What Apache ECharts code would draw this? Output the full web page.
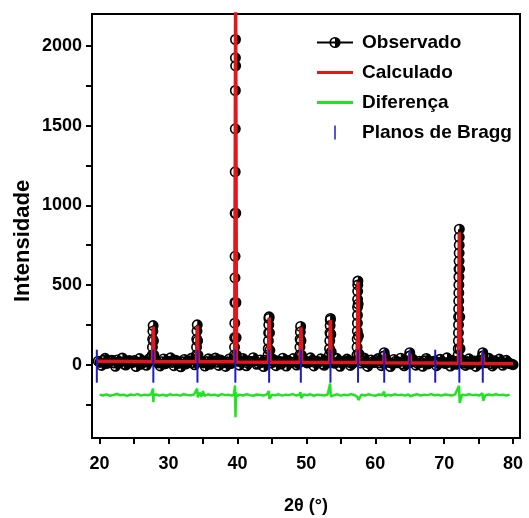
<!DOCTYPE html>
<html>
<head>
<meta charset="utf-8">
<script src="https://cdn.jsdelivr.net/npm/echarts@6/dist/echarts.min.js"></script>
<style>html,body{margin:0;padding:0;background:#fff}#c{width:529px;height:518px}</style>
</head>
<body>
<div id="c"></div>
<script>
// ---- Data ----
const seriesNames = ['Observado', 'Calculado', 'Diferença', 'Planos de Bragg'];
const xTickLabels = [20, 30, 40, 50, 60, 70, 80];
const xTicks = [20, 25, 30, 35, 40, 45, 50, 55, 60, 65, 70, 75, 80];
const yTickLabels = [0, 500, 1000, 1500, 2000];
const yTicks = [-250, 0, 250, 500, 750, 1000, 1250, 1500, 1750, 2000];

// Observed background counts [2θ, intensity]
const observedBackground = [
  [19.8,22],[20.3,-5],[20.8,40],[21.3,12],[21.8,28],[22.3,-10],[22.8,19],[23.3,42],[23.8,-2],[24.3,26],
  [24.8,14],[25.3,-12],[25.8,38],[26.3,18],[26.8,-4],[27.3,41],[28.3,16],[28.8,-8],[29.3,36],
  [29.8,12],[30.3,43],[30.8,-6],[31.3,21],[31.8,-13],[32.3,33],[32.8,17],[33.3,40],[33.8,-1],
  [34.8,19],[35.3,-9],[35.8,37],[36.3,14],[36.8,42],[37.3,-5],[37.8,23],[38.3,-11],[38.8,35],[39.3,17],
  [40.3,-3],[40.8,39],[41.3,-7],[41.8,22],[42.3,44],[42.8,2],[43.3,30],[43.8,-12],[44.3,18],
  [45.1,36],[45.6,-6],[46.1,21],[46.6,41],[47.1,-9],[47.6,15],[48.1,38],[48.6,-2],
  [49.6,31],[50.1,11],[50.6,43],[51.1,-8],[51.6,20],[52.1,37],[52.6,-4],[53.1,23],
  [53.9,14],[54.4,40],[54.9,-10],[55.4,19],[55.9,35],[56.4,-5],[56.9,22],
  [57.9,10],[58.4,42],[58.9,-11],[59.4,30],[59.9,13],[60.4,38],[60.9,-6],
  [61.7,20],[62.2,-12],[62.7,33],[63.2,12],[63.7,41],[64.2,-7],[64.6,17],
  [65.4,36],[65.9,-3],[66.4,22],[66.9,-10],[67.4,39],[67.9,11],[68.4,18],[68.9,-6],[69.4,34],
  [69.9,13],[70.4,43],[70.9,-9],[71.4,21],[71.8,2],
  [72.6,30],[73.1,-5],[73.6,37],[74.1,15],[74.6,-11],[75.1,29],
  [76.0,12],[76.5,40],[77.0,-8],[77.5,20],[78.0,35],[78.5,-4],[79.0,27],[79.5,6],[80.0,0]
];
const observedBackground2 = [
  [20.05,14],[20.55,27],[21.05,8],[21.55,24],[22.05,11],[22.55,30],[23.05,16],[23.55,4],[24.05,21],[24.55,12],
  [25.05,26],[25.55,15],[26.05,3],[26.55,23],[27.05,17],[28.05,25],[28.55,10],[29.05,19],[29.55,6],
  [30.05,22],[30.55,14],[31.05,28],[31.55,9],[32.05,18],[32.55,5],[33.05,24],[33.55,13],[34.55,27],
  [35.05,11],[35.55,20],[36.05,2],[36.55,25],[37.05,15],[37.55,29],[38.05,12],[38.55,18],[39.05,7],
  [40.05,21],[40.55,16],[41.05,27],[41.55,9],[42.05,19],[42.55,24],[43.05,6],[43.55,14],[44.05,28],
  [44.85,10],[45.35,17],[45.85,23],[46.35,4],[46.85,20],[47.35,26],[47.85,13],[48.35,19],[48.85,8],
  [49.85,22],[50.35,15],[50.85,27],[51.35,11],[51.85,17],[52.35,3],[52.85,24],[53.25,14],
  [54.15,9],[54.65,21],[55.15,12],[55.65,25],[56.15,16],[56.65,7],[57.15,19],
  [58.15,23],[58.65,13],[59.15,6],[59.65,18],[60.15,26],[60.65,11],[61.05,20],
  [61.95,14],[62.45,8],[62.95,22],[63.45,17],[63.95,4],[64.45,25],[64.8,12],
  [65.2,16],[65.65,21],[66.15,9],[66.65,14],[67.15,24],[67.65,5],[68.15,19],[68.65,23],[69.15,10],
  [69.65,18],[70.15,7],[70.65,15],[71.15,26],[71.6,12],
  [72.45,17],[72.85,9],[73.35,20],[73.85,4],[74.35,23],[74.85,13],[75.3,8],
  [75.85,21],[76.25,14],[76.75,6],[77.25,24],[77.75,12],[78.25,17],[78.75,9],[79.25,15],[79.75,5]
];

// Observed points on the diffraction peaks [2θ, intensity]
const observedPeaks = [
  [27.64,60],[27.67,110],[27.70,160],[27.73,210],[27.77,245],[27.82,150],[27.88,60],
  [34.04,60],[34.07,110],[34.10,160],[34.13,210],[34.17,250],[34.22,150],[34.28,60],
  [39.56,60],[39.58,110],[39.60,170],[39.62,260],[39.64,390],[39.65,545],[39.66,680],
  [39.67,950],[39.68,1210],[39.69,1480],[39.70,1720],[39.71,1925],[39.72,2040],
  [39.74,1875],[39.76,950],[39.78,390],[39.81,170],[39.85,60],
  [44.44,60],[44.47,100],[44.50,150],[44.53,200],[44.55,250],[44.57,290],[44.60,300],[44.65,200],[44.71,90],
  [49.04,60],[49.07,110],[49.10,160],[49.13,205],[49.17,240],[49.22,150],[49.28,60],
  [53.34,60],[53.37,100],[53.40,150],[53.43,200],[53.45,245],[53.47,280],[53.50,290],[53.55,190],[53.61,80],
  [57.34,60],[57.36,110],[57.38,160],[57.40,210],[57.41,260],[57.42,310],[57.43,360],[57.44,410],
  [57.45,460],[57.46,500],[57.48,525],[57.52,380],[57.56,180],[57.61,70],
  [61.25,55],[61.30,75],[61.35,55],
  [64.95,55],[65.00,75],[65.05,55],
  [72.02,60],[72.04,100],[72.06,150],[72.07,200],[72.08,250],[72.09,300],[72.10,350],[72.11,400],
  [72.12,450],[72.13,500],[72.14,550],[72.15,600],[72.16,650],[72.17,700],[72.18,750],[72.19,800],
  [72.20,850],[72.23,600],[72.26,300],[72.30,100],
  [75.55,55],[75.60,75],[75.65,55]
];

// Calculated profile [2θ, intensity]
const calculated = [
  [19.6,22],[25.0,20],[27.68,19],[27.80,240],[27.92,19],
  [34.08,18],[34.20,245],[34.32,18],[39.62,18],[39.74,2400],[39.86,17],
  [44.50,16],[44.62,295],[44.74,16],[49.10,15],[49.22,235],[49.34,15],
  [53.38,14],[53.50,280],[53.62,14],[57.38,13],[57.50,520],[57.62,13],
  [61.22,12],[61.32,70],[61.42,12],[64.92,11],[65.02,70],[65.12,11],
  [68.62,10],[68.72,25],[68.82,10],[72.08,9],[72.20,830],[72.32,9],
  [75.52,8],[75.62,70],[75.72,8],[80.0,6]
];

// Difference (observed - calculated), offset below zero [2θ, value]
const difference = [
  [20.0,-188],[20.5,-193],[21.0,-186],[21.5,-195],[22.0,-190],[22.5,-184],[23.0,-192],[23.5,-189],[24.0,-196],[24.5,-187],
  [25.0,-191],[25.5,-185],[26.0,-194],[26.5,-188],[27.0,-192],[27.5,-186],[27.75,-150],[27.80,-235],[27.85,-190],
  [28.2,-187],[28.7,-193],[29.2,-189],[29.7,-195],[30.2,-186],[30.7,-191],[31.2,-188],[31.7,-194],[32.2,-185],[32.7,-190],
  [33.2,-192],[33.7,-187],[34.15,-150],[34.25,-205],[34.5,-175],[34.8,-200],[35.0,-165],[35.2,-196],[35.7,-186],
  [36.2,-192],[36.7,-188],[37.2,-195],[37.7,-185],[38.2,-191],[38.7,-189],[39.2,-194],[39.5,-186],
  [39.65,-130],[39.72,-330],[39.80,-175],[39.9,-200],[40.3,-188],[40.8,-193],[41.3,-186],[41.8,-191],[42.3,-195],
  [42.8,-187],[43.3,-190],[43.8,-193],[44.3,-186],[44.55,-165],[44.65,-215],[45.0,-189],[45.5,-192],[46.0,-186],
  [46.5,-194],[47.0,-188],[47.5,-191],[48.0,-185],[48.5,-193],[49.0,-189],[49.15,-172],[49.25,-210],[49.6,-187],
  [50.1,-192],[50.6,-186],[51.1,-195],[51.6,-188],[52.1,-190],[52.6,-193],[53.1,-187],[53.45,-118],[53.55,-200],
  [54.0,-191],[54.5,-186],[55.0,-194],[55.5,-189],[56.0,-192],[56.5,-185],[57.0,-190],[57.45,-205],[57.55,-222],
  [58.0,-188],[58.5,-193],[59.0,-186],[59.5,-191],[60.0,-195],[60.5,-187],[61.0,-190],[61.3,-170],[61.4,-200],
  [61.8,-189],[62.3,-193],[62.8,-186],[63.3,-191],[63.8,-188],[64.3,-194],[64.8,-187],[65.0,-178],[65.1,-198],
  [65.6,-190],[66.1,-186],[66.6,-193],[67.1,-188],[67.6,-191],[68.1,-185],[68.6,-192],[69.1,-189],[69.6,-194],
  [70.1,-187],[70.6,-190],[71.1,-193],[71.6,-186],[72.15,-132],[72.25,-240],[72.6,-188],[73.1,-192],[73.6,-186],
  [74.1,-191],[74.6,-189],[75.1,-193],[75.55,-180],[75.65,-226],[76.0,-190],[76.5,-187],[77.0,-192],[77.5,-186],
  [78.0,-191],[78.5,-188],[79.0,-193],[79.5,-189]
];

// Bragg reflection positions (2θ) and the intensity span of their markers
const braggPositions = [19.6, 27.8, 34.2, 39.7, 44.6, 49.2, 53.5, 57.5, 61.3, 65.0, 68.7, 72.2, 75.6];
const braggSpan = [-113, 94];

// ---- Chart ----
const observed = observedBackground.concat(observedBackground2, observedPeaks).sort((a, b) => a[0] - b[0]);
const sans = "'Liberation Sans', Arial, Helvetica, sans-serif";
const halfCircle = 'path://M10,0 A10,10 0 1,1 10,20 A10,10 0 1,1 10,0 Z M10,3 A7,7 0 1,0 10,17 A7,7 0 1,0 10,3 Z M10,3 A7,7 0 0,1 10,17 Z';

const chart = echarts.init(document.getElementById('c'), null, {renderer: 'canvas'});
chart.setOption({
  animation: false,
  backgroundColor: '#fff',
  grid: {left: 92, right: 9, top: 14, bottom: 80, outerBoundsMode: 'none', containLabel: false,
         show: true, borderColor: '#000', borderWidth: 2, backgroundColor: 'transparent'},
  legend: {
    orient: 'vertical', left: 311, top: 28, itemWidth: 36, itemHeight: 14, itemGap: 11,
    textStyle: {fontFamily: sans, fontWeight: 'bold', fontSize: 19, color: '#000', padding: [0, 0, 0, 4]},
    data: [
      {name: seriesNames[0]},
      {name: seriesNames[1], icon: 'path://M0,0h36v3h-36z'},
      {name: seriesNames[2], icon: 'path://M0,0h36v3h-36z'},
      {name: seriesNames[3], icon: 'path://M0,0h1.5v14h-1.5z'}
    ]
  },
  xAxis: {
    type: 'value', min: 18.9, max: 81,
    name: '2θ (°)', nameLocation: 'middle', nameGap: 59, nameMoveOverlap: false,
    nameTextStyle: {fontFamily: sans, fontWeight: 'bold', fontSize: 18, color: '#000'},
    axisLine: {show: true, onZero: false, lineStyle: {color: '#000', width: 2}},
    axisTick: {show: true, inside: false, length: 6, lineStyle: {color: '#000', width: 2}, customValues: xTicks},
    axisLabel: {margin: 17, fontFamily: sans, fontWeight: 'bold', fontSize: 18, color: '#000',
                customValues: xTickLabels, formatter: v => String(v)},
    splitLine: {show: false}
  },
  yAxis: {
    type: 'value', min: -460, max: 2200,
    name: 'Intensidade', nameLocation: 'middle', nameRotate: 90, nameGap: 58, nameMoveOverlap: false,
    nameTextStyle: {fontFamily: sans, fontWeight: 'bold', fontSize: 22, color: '#000', padding: [0, 30, 0, 0]},
    axisLine: {show: true, onZero: false, lineStyle: {color: '#000', width: 2}},
    axisTick: {show: true, inside: false, length: 6, lineStyle: {color: '#000', width: 2}, customValues: yTicks},
    axisLabel: {margin: 10, fontFamily: sans, fontWeight: 'bold', fontSize: 18, color: '#000',
                customValues: yTickLabels, formatter: v => String(v)},
    splitLine: {show: false}
  },
  series: [
    {
      name: seriesNames[0], type: 'line', data: observed,
      symbol: halfCircle, symbolSize: 11, showAllSymbol: true,
      itemStyle: {color: '#000'},
      lineStyle: {color: '#000', width: 2.5}, z: 2
    },
    {
      name: seriesNames[1], type: 'line', data: calculated, symbol: 'none',
      itemStyle: {color: '#e3161c'}, lineStyle: {color: '#e3161c', width: 3.5}, z: 3
    },
    {
      name: seriesNames[2], type: 'line', data: difference, symbol: 'none',
      itemStyle: {color: '#22e322'}, lineStyle: {color: '#22e322', width: 2.5}, z: 3
    },
    {
      name: seriesNames[3], type: 'custom',
      data: braggPositions.map(p => [p]),
      encode: {x: 0},
      itemStyle: {color: '#1c1cc8'},
      z: 4,
      renderItem: function (params, api) {
        const x = api.value(0);
        const a = api.coord([x, braggSpan[1]]);
        const b = api.coord([x, braggSpan[0]]);
        return {type: 'line', shape: {x1: a[0], y1: a[1], x2: b[0], y2: b[1]}, style: {stroke: '#1c1cc8', lineWidth: 2}};
      }
    }
  ]
});
</script>
</body>
</html>
